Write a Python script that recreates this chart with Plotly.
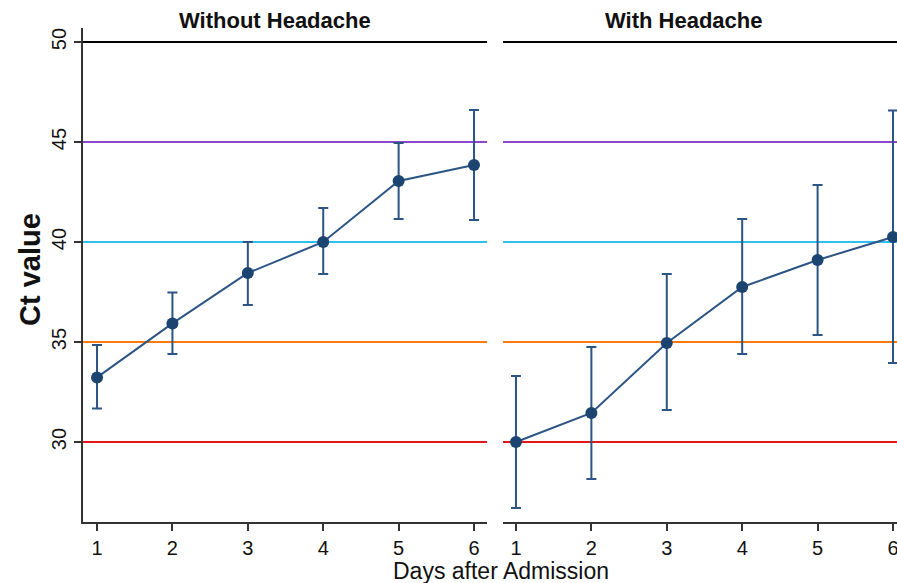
import plotly.graph_objects as go

days = [1, 2, 3, 4, 5, 6]

# Without Headache
wo_mean = [33.23, 35.93, 38.45, 40.0, 43.05, 43.85]
wo_upper = [34.85, 37.48, 40.0, 41.7, 44.95, 46.6]
wo_lower = [31.67, 34.4, 36.85, 38.4, 41.15, 41.1]

# With Headache
wi_mean = [30.0, 31.45, 34.95, 37.75, 39.1, 40.25]
wi_upper = [33.3, 34.75, 38.4, 41.15, 42.85, 46.57]
wi_lower = [26.7, 28.15, 31.6, 34.4, 35.35, 33.95]

ref_levels = [50, 45, 40, 35, 30]
ref_colors = ["#000000", "#8c48cc", "#2fc0f0", "#ff7a10", "#e3161d"]

panel_titles = ["Without Headache", "With Headache"]
y_ticks = [30, 35, 40, 45, 50]

FONT = "Liberation Sans, Arial, Helvetica, sans-serif"
LINE_C = "#2c5585"
MARK_C = "#1b4470"

W, H = 897, 583
ml, mr, mt, mb = 83, 0, 28, 61
pw = W - ml - mr
ph = H - mt - mb

fig = go.Figure()

def add_series(mean, up, lo, xa, ya):
    fig.add_trace(go.Scatter(
        x=days, y=mean, mode="lines+markers",
        xaxis=xa, yaxis=ya,
        line=dict(color=LINE_C, width=2),
        marker=dict(color=MARK_C, size=12),
        error_y=dict(type="data", symmetric=False,
                     array=[u - m for u, m in zip(up, mean)],
                     arrayminus=[m - l for m, l in zip(mean, lo)],
                     color=LINE_C, thickness=2, width=5),
        showlegend=False,
    ))

add_series(wo_mean, wo_upper, wo_lower, "x", "y")
add_series(wi_mean, wi_upper, wi_lower, "x2", "y2")

for xr in ["x domain", "x2 domain"]:
    for lv, c in zip(ref_levels, ref_colors):
        fig.add_shape(type="line", xref=xr, yref="y", x0=0, x1=1, y0=lv, y1=lv,
                      line=dict(color=c, width=2), layer="below")

axis_common = dict(
    tickmode="array", tickvals=days, ticktext=[str(d) for d in days],
    ticks="outside", ticklen=7, tickwidth=1.5, tickcolor="#333333",
    showline=True, linecolor="#333333", linewidth=1.5,
    showgrid=False, zeroline=False, ticklabeloverflow="allow",
    tickfont=dict(family=FONT, size=20, color="#111111"),
)

split1 = 404 / pw
split2 = 420 / pw

fig.update_layout(
    width=W, height=H,
    margin=dict(l=ml, r=mr, t=mt, b=mb, autoexpand=False),
    paper_bgcolor="white", plot_bgcolor="white",
    font=dict(family=FONT, color="#111111"),
    xaxis=dict(domain=[0, split1], range=[0.814, 6.172], anchor="y", **axis_common),
    xaxis2=dict(domain=[split2, 1], range=[0.828, 6.053], anchor="y2", **axis_common),
    yaxis=dict(range=[26, 50.7], tickvals=y_ticks, ticktext=[str(v) for v in y_ticks],
               ticks="outside", ticklen=7, tickwidth=1.5, tickcolor="#333333",
               showline=True, linecolor="#333333", linewidth=1.5,
               showgrid=False, zeroline=False, tickangle=-90,
               tickfont=dict(family=FONT, size=20, color="#111111"), anchor="x"),
    yaxis2=dict(range=[26, 50.7], matches="y", showticklabels=False, ticks="",
                showline=False, showgrid=False, zeroline=False, anchor="x2"),
)

def px_x(p):
    return (p - ml) / pw

def px_y(p):
    return (H - mb - p) / ph

annots = [
    dict(text="<b>%s</b>" % panel_titles[0], x=px_x(275), y=px_y(21), size=22, angle=0),
    dict(text="<b>%s</b>" % panel_titles[1], x=px_x(684), y=px_y(21), size=22, angle=0),
    dict(text="<b>Ct value</b>", x=px_x(30), y=px_y(270), size=29, angle=-90),
    dict(text="Days after Admission", x=px_x(501), y=px_y(571), size=23, angle=0),
]
for a in annots:
    fig.add_annotation(text=a["text"], x=a["x"], y=a["y"], xref="paper", yref="paper",
                       showarrow=False, textangle=a["angle"],
                       font=dict(family=FONT, size=a["size"], color="#111111"),
                       xanchor="center", yanchor="middle")

fig.write_html(
    "out.html",
    config={"displayModeBar": False},
    post_script="document.body.style.margin='0';document.body.style.overflow='hidden';",
)
